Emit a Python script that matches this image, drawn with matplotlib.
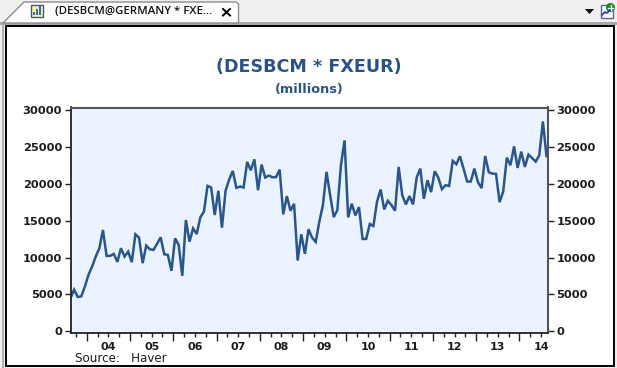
import matplotlib
matplotlib.use('Agg')
import matplotlib.pyplot as plt
from matplotlib.patches import Polygon, Rectangle, Circle
from matplotlib.ticker import FixedLocator, NullFormatter
import numpy as np

# monthly values, first point is Aug 2003
values = [4500, 5640, 4650, 4740, 6090, 7670, 8800, 10150, 11280, 13760, 10240, 10240,
          10510, 9430, 11280, 10150, 10820, 9380, 13170, 12720, 9250, 11640, 11140, 11050,
          11860, 12760, 10460, 10370, 8210, 12630, 11730, 7530, 15110, 12180, 13980, 13210,
          15470, 16240, 19750, 19530, 15790, 19080, 14070, 19080, 20610, 21780, 19480, 19660,
          19530, 23000, 21870, 23360, 19170, 22640, 20880, 21150, 20930, 20930, 21960, 15880,
          18360, 16370, 17320, 9610, 13170, 10510, 13850, 12720, 12130, 14880, 17140, 21650,
          18490, 15510, 16460, 22550, 25930, 15470, 17320, 15740, 16870, 12540, 12540, 14570,
          14300, 17590, 19260, 16550, 17720, 17140, 16370, 22320, 18490, 17230, 18360, 17230,
          20880, 22100, 17990, 20520, 18900, 21740, 20880, 19300, 19840, 19750, 23140, 22690,
          23770, 22100, 20340, 20340, 22100, 20250, 19440, 23810, 21600, 21420, 21380, 17540,
          18990, 23590, 22550, 25120, 22190, 24400, 22320, 23990, 23540, 23050, 23900, 28500,
          23810]
year_ticks = list(range(2004, 2015))
year_labels = ['04', '05', '06', '07', '08', '09', '10', '11', '12', '13', '14']
y_ticks = [0, 5000, 10000, 15000, 20000, 25000, 30000]

W, H = 617, 368
NAVY = '#2A5285'
TXT = '#1c1c1c'

fig = plt.figure(figsize=(W / 100, H / 100), dpi=100, facecolor='#f0f0f0')

# window chrome, in pixel coordinates
bg = fig.add_axes([0, 0, 1, 1], zorder=0)
bg.set_xlim(0, W)
bg.set_ylim(H, 0)
bg.axis('off')
bg.add_patch(Rectangle((0, 22), W, 3, fc='#a8a8a8', ec='none'))
bg.add_patch(Rectangle((2, 25), 2, H, fc='#b0b0b0', ec='none'))
bg.add_patch(Rectangle((5.5, 25.5), 608.5, 340, fc='white', ec='black', lw=1.4))
bg.add_patch(Polygon([(3, 23), (24, 2), (236, 2), (238.5, 4), (238.5, 23)],
                     fc='white', ec='#8c8c8c', lw=1))
bg.add_patch(Rectangle((30.5, 4.5), 12, 12, fc='#fff6a0', ec='#3c5a8c', lw=1))
for bx, bh in [(33, 3), (36, 6), (39, 9)]:
    bg.add_patch(Rectangle((bx, 15 - bh), 2, bh, fc='#2f6fb0', ec='none'))
bg.text(55, 12, '(DESBCM@GERMANY * FXE...', fontsize=8.2, color='#111111', va='center',
        ha='left', family='Open Sans', fontweight='semibold')
bg.plot([223, 230], [9, 15.5], color='black', lw=1.4)
bg.plot([223, 230], [15.5, 9], color='black', lw=1.4)
bg.add_patch(Polygon([(585, 9), (594, 9), (589.5, 14)], fc='black', ec='none'))
bg.add_patch(Rectangle((600.5, 4.5), 12, 13, fc='white', ec='#5a6a8a', lw=1))
bg.plot([602, 605, 607, 611], [15, 12, 13, 9], color='#3030b0', lw=1.2)
bg.add_patch(Circle((610.5, 7.5), 4.5, fc='#0b8a1e', ec='none'))
bg.plot([608, 613], [7.5, 7.5], color='white', lw=1)
bg.plot([610.5, 610.5], [5, 10], color='white', lw=1)

# chart
left, right, top, bottom = 70.5, 548, 107.5, 333
ax = fig.add_axes([left / W, 1 - bottom / H, (right - left) / W, (bottom - top) / H], zorder=1)
ax.set_facecolor('#EAF3FF')
x = 2003 + (7.5 + np.arange(len(values))) / 12
ax.plot(x, values, color='#1F4E86', lw=1.8, solid_joinstyle='miter', alpha=0.95)
ax.set_xlim(2003.625, 2014.66)
ax.set_ylim(-240, 30400)

for side in ['left', 'bottom']:
    ax.spines[side].set_color('#222222')
    ax.spines[side].set_linewidth(1.3)
for side in ['top', 'right']:
    ax.spines[side].set_color('#555555')
    ax.spines[side].set_linewidth(1.5)

ax.set_yticks(y_ticks)
ax.set_yticklabels([str(v) for v in y_ticks])
ax.tick_params(axis='y', which='major', left=True, right=True, labelleft=True, labelright=True,
               length=4, width=1, color='#222222', pad=2, labelsize=8.2, labelcolor=TXT)
ax.set_xticks(year_ticks)
ax.xaxis.set_major_formatter(NullFormatter())
ax.xaxis.set_minor_locator(FixedLocator([y + q / 4 for y in range(2003, 2015) for q in range(4)
                                         if 2003.62 < y + q / 4 < 2014.66]))
ax.tick_params(axis='x', which='major', length=6, width=1, color='#222222')
ax.tick_params(axis='x', which='minor', length=3, width=1, color='#222222')
for lab in ax.get_yticklabels():
    lab.set_fontweight('bold')

for yr, lab in zip(year_ticks, year_labels):
    bg.text(left + (yr + 0.5 - 2003.625) / (2014.66 - 2003.625) * (right - left), 346.5, lab,
            ha='center', va='center', fontsize=8, fontweight='bold', color=TXT)

bg.text(308.5, 67, '(DESBCM * FXEUR)', ha='center', va='center', fontsize=12.6,
        fontweight='bold', color=NAVY)
bg.text(309.5, 89, '(millions)', ha='center', va='center', fontsize=9.3,
        fontweight='bold', color=NAVY)
bg.text(75, 358.5, 'Source:   Haver', ha='left', va='center', fontsize=8.6, color=TXT)

fig.savefig('out.png', dpi=100, facecolor=fig.get_facecolor())
